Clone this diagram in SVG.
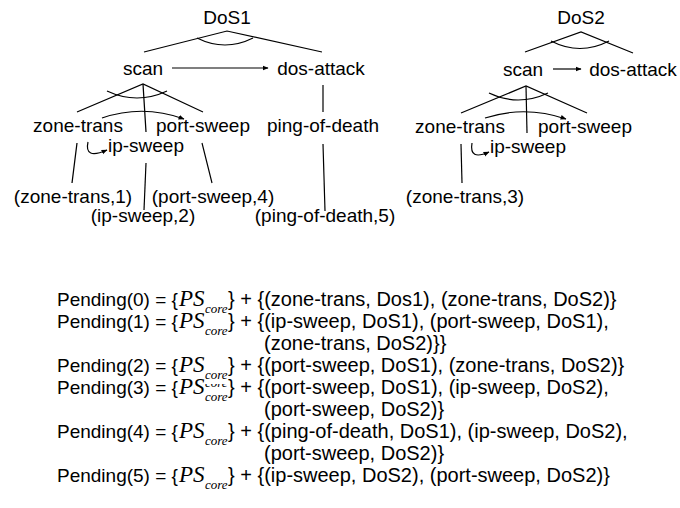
<svg xmlns="http://www.w3.org/2000/svg" width="680" height="508" viewBox="0 0 680 508">
  <style>
    .lbl { font-family: "Liberation Sans", Arial, sans-serif; font-size: 19px; fill: #000; text-anchor: middle; }
    .eq { font-family: "Liberation Sans", Arial, sans-serif; font-size: 19px; fill: #000; }
    .tail { font-family: "Liberation Sans", Arial, sans-serif; font-size: 20px; fill: #000; }
    .ps { font-family: "Liberation Serif", "Times New Roman", serif; font-style: italic; font-size: 23px; fill: #000; }
    .sub { font-family: "Liberation Serif", "Times New Roman", serif; font-style: italic; font-size: 13px; fill: #000; }
    .edge { stroke: #000; stroke-width: 1.2; fill: none; }
    .arc { stroke: #000; stroke-width: 1.2; fill: none; }
    .seq { stroke: #000; stroke-width: 1.2; fill: none; marker-end: url(#head); }
  </style>
  <defs>
    <marker id="head" viewBox="0 0 10 10" refX="9" refY="5" markerWidth="6" markerHeight="6" markerUnits="userSpaceOnUse" orient="auto">
      <path d="M0,1 L10,5 L0,9 z" fill="#000"/>
    </marker>
    <clipPath id="supClip">
      <rect x="200" y="384" width="32" height="5"/>
    </clipPath>
  </defs>

  <rect width="680" height="508" fill="#fff"/>

  <!-- connectors: decomposition edges, AND arcs and ordering arrows -->
  <g id="connectors">
    <!-- DoS1 -->
    <path class="edge" d="M144,52 L227,31 L322,52"/>
    <path class="arc" d="M197,38 Q225,52 253,38"/>
    <path class="seq" d="M172,68 L268,68" stroke-width="1.6"/>
    <path class="edge" d="M77,112 L143,84 L203,112"/>
    <path class="edge" d="M143,84 L146,132"/>
    <path class="arc" d="M107,91 Q137,105 167,91"/>
    <path class="seq" d="M102,118 Q143,104 184,119"/>
    <path class="seq" d="M88,142 Q84,160 107,150"/>
    <path class="edge" d="M323,85 L323,112"/>
    <path class="edge" d="M77,143 L72,183"/>
    <path class="edge" d="M146,163 L144,210"/>
    <path class="edge" d="M202,143 L212,183"/>
    <path class="edge" d="M323,144 L325,211"/>
    <!-- DoS2 -->
    <path class="edge" d="M525,52 L581,32 L633,53"/>
    <path class="arc" d="M551,41 Q580,56 609,41"/>
    <path class="seq" d="M553,69 L581,69"/>
    <path class="edge" d="M461,113 L526,86 L587,113"/>
    <path class="edge" d="M526,86 L527,133"/>
    <path class="arc" d="M489,93 Q518,107 548,93"/>
    <path class="seq" d="M485,118 Q525,105 566,119"/>
    <path class="seq" d="M472,143 Q469,161 489,152"/>
    <path class="edge" d="M461,144 L462,183"/>
  </g>

  <!-- DoS1 plan -->
  <g id="dos1"><text class="lbl" x="227" y="24">DoS1</text></g>
  <g id="dos1-scan"><text class="lbl" x="143" y="75">scan</text></g>
  <g id="dos1-attack"><text class="lbl" x="321" y="75">dos-attack</text></g>
  <g id="dos1-zone"><text class="lbl" x="78" y="132">zone-trans</text></g>
  <g id="dos1-port"><text class="lbl" x="203" y="132">port-sweep</text></g>
  <g id="dos1-ping"><text class="lbl" x="323" y="132">ping-of-death</text></g>
  <g id="dos1-ip"><text class="lbl" x="146" y="152">ip-sweep</text></g>
  <g id="obs-zone1"><text class="lbl" x="73" y="203">(zone-trans,1)</text></g>
  <g id="obs-port4"><text class="lbl" x="213" y="203">(port-sweep,4)</text></g>
  <g id="obs-ip2"><text class="lbl" x="143" y="222">(ip-sweep,2)</text></g>
  <g id="obs-ping5"><text class="lbl" x="325" y="222">(ping-of-death,5)</text></g>

  <!-- DoS2 plan -->
  <g id="dos2"><text class="lbl" x="581" y="24">DoS2</text></g>
  <g id="dos2-scan"><text class="lbl" x="523" y="76">scan</text></g>
  <g id="dos2-attack"><text class="lbl" x="633" y="76">dos-attack</text></g>
  <g id="dos2-zone"><text class="lbl" x="460" y="133">zone-trans</text></g>
  <g id="dos2-port"><text class="lbl" x="585" y="133">port-sweep</text></g>
  <g id="dos2-ip"><text class="lbl" x="528" y="153">ip-sweep</text></g>
  <g id="obs-zone3"><text class="lbl" x="465" y="203">(zone-trans,3)</text></g>

  <!-- pending sets -->
  <g id="pending">
    <text class="eq" x="57" y="306">Pending(0) = {</text>
    <text class="ps" x="179" y="306">PS</text>
    <text class="sub" x="205" y="313">core</text>
    <text class="tail" x="228" y="306">} + {(zone-trans, Dos1), (zone-trans, DoS2)}</text>

    <text class="eq" x="57" y="328">Pending(1) = {</text>
    <text class="ps" x="179" y="328">PS</text>
    <text class="sub" x="205" y="335">core</text>
    <text class="tail" x="228" y="328">} + {(ip-sweep, DoS1), (port-sweep, DoS1),</text>
    <text class="tail" x="264" y="350">(zone-trans, DoS2)}}</text>

    <text class="eq" x="57" y="372">Pending(2) = {</text>
    <text class="ps" x="179" y="372">PS</text>
    <text class="sub" x="205" y="379">core</text>
    <text class="tail" x="228" y="372">} + {(port-sweep, DoS1), (zone-trans, DoS2)}</text>

    <text class="eq" x="57" y="394">Pending(3) = {</text>
    <text class="ps" x="179" y="394">PS</text>
    <text class="sub" x="205" y="387" clip-path="url(#supClip)" fill="#555">core</text>
    <text class="sub" x="205" y="401">core</text>
    <text class="tail" x="228" y="394">} + {(port-sweep, DoS1), (ip-sweep, DoS2),</text>
    <text class="tail" x="264" y="416">(port-sweep, DoS2)}</text>

    <text class="eq" x="57" y="438">Pending(4) = {</text>
    <text class="ps" x="179" y="438">PS</text>
    <text class="sub" x="205" y="445">core</text>
    <text class="tail" x="228" y="438">} + {(ping-of-death, DoS1), (ip-sweep, DoS2),</text>
    <text class="tail" x="264" y="460">(port-sweep, DoS2)}</text>

    <text class="eq" x="57" y="482">Pending(5) = {</text>
    <text class="ps" x="179" y="482">PS</text>
    <text class="sub" x="205" y="489">core</text>
    <text class="tail" x="228" y="482">} + {(ip-sweep, DoS2), (port-sweep, DoS2)}</text>
  </g>
</svg>
